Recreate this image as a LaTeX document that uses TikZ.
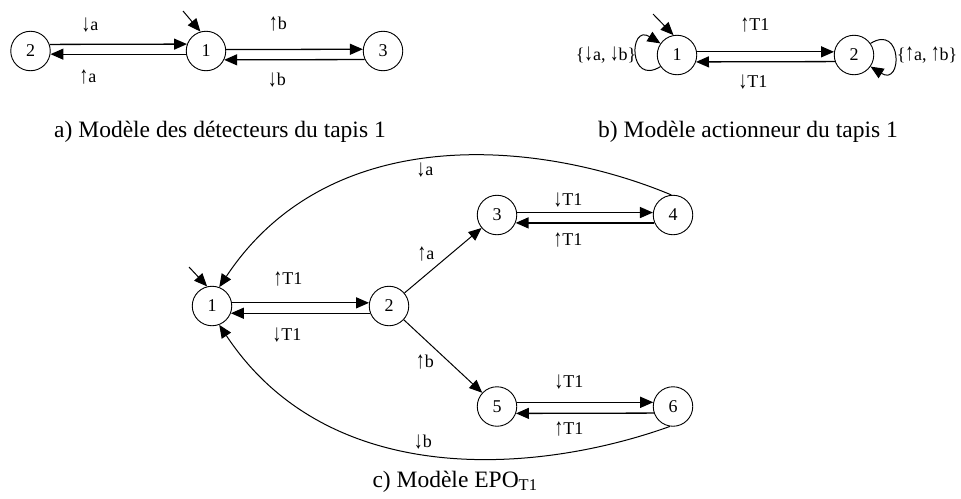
\documentclass[tikz,border=0pt]{standalone}
\usepackage{fontspec}
\usepackage{graphicx}
\setmainfont{Liberation Serif}
\usetikzlibrary{arrows.meta,shapes.geometric}
\newcommand{\dnar}{\raisebox{-0.5pt}{\scalebox{0.95}[1.35]{↓}}}
\newcommand{\upar}{\raisebox{-0.5pt}{\scalebox{0.95}[1.35]{↑}}}
\begin{document}
\begin{tikzpicture}[x=1pt,y=-1pt,
  state/.style={circle,draw,line width=0.9pt,minimum size=39.5pt,inner sep=0pt,font=\fontsize{18}{21}\selectfont},
  lbl/.style={font=\fontsize{18}{21}\selectfont,inner sep=0pt},
  captxt/.style={font=\fontsize{23.5}{28}\selectfont,inner sep=0pt,anchor=base},
  tr/.style={line width=1.3pt,-{Triangle[length=13pt,width=11pt]}},
  cv/.style={line width=1pt,-{Triangle[length=13pt,width=11pt]}}]
\useasboundingbox (0,0) rectangle (961,498);

% ---- panel a
\node[state] (a2) at (30.5,51) {2};
\node[state] (a1) at (206,51) {1};
\node[state] (a3) at (383,51) {3};
\coordinate (ai) at (183,11);
\draw[cv] (ai) -- (a1.106);
\draw[tr] (a2.19.5) -- (a1.160.5);
\draw[tr] (a1.189) -- (a2.351);
\draw[tr] (a1.4.4) -- (a3.175.6);
\draw[tr] (a3.205.8) -- (a1.334.2);
\node[lbl] (la1) at (90,25) {\dnar a};
\node[lbl] (la2) at (88,77) {\upar a};
\node[lbl] (la3) at (278,24) {\upar b};
\node[lbl] (la4) at (277,80) {\dnar b};
\node[captxt] (capa) at (220,137) {a) Modèle des détecteurs du tapis 1};

% ---- panel b
\node[state] (b1) at (677,55) {1};
\node[state] (b2) at (854,55) {2};
\coordinate (bi) at (653,14);
\draw[cv] (bi) -- (b1.100);
\draw[tr] (b1.9) -- (b2.171);
\draw[tr] (b2.199.5) -- (b1.340.5);
\draw[cv] (b1.215) .. controls +(-32,20) and +(-32,-20) .. (b1.145);
\draw[cv] (b2.35) .. controls +(32,-20) and +(32,20) .. (b2.325);
\node[lbl] (lb1) at (755,25) {\upar T1};
\node[lbl] (lb2) at (753,82) {\dnar T1};
\node[lbl] (lb3) at (606,55) {\{\dnar a, \dnar b\}};
\node[lbl] (lb4) at (927,55) {\{\upar a, \upar b\}};
\node[captxt] (capb) at (748,137) {b) Modèle actionneur du tapis 1};

% ---- panel c
\node[state] (c1) at (212,306) {1};
\node[state] (c2) at (389,306) {2};
\node[state] (c3) at (497,215) {3};
\node[state] (c4) at (673,215) {4};
\node[state] (c5) at (497,406.5) {5};
\node[state] (c6) at (673,406.5) {6};
\coordinate (ci) at (189,267);
\draw[cv] (ci) -- (c1.104);
\draw[tr] (c1.9) -- (c2.171);
\draw[tr] (c2.201) -- (c1.339);
\draw[cv] (c2) -- (c3);
\draw[cv] (c2) -- (c5);
\draw[tr] (c3.7) -- (c4.173);
\draw[tr] (c4.203) -- (c3.337);
\draw[tr] (c5.12) -- (c6.168);
\draw[tr] (c6.199.5) -- (c5.340.5);
\draw[cv] (c4.95) .. controls (540,140) and (330,120) .. (c1.69);
\draw[cv] (c6.261) .. controls (540,473) and (330,492) .. (c1.291);
\node[lbl] (lc1) at (288,279) {\upar T1};
\node[lbl] (lc2) at (287,335) {\dnar T1};
\node[lbl] (lc3) at (426,254) {\upar a};
\node[lbl] (lc4) at (425,362) {\upar b};
\node[lbl] (lc5) at (568,200) {\dnar T1};
\node[lbl] (lc6) at (568,240) {\upar T1};
\node[lbl] (lc7) at (569,382) {\dnar T1};
\node[lbl] (lc8) at (569,429) {\upar T1};
\node[lbl] (lc9) at (425,170) {\dnar a};
\node[lbl] (lc10) at (423,442) {\dnar b};
\node[captxt] (capc) at (455,487) {c) Modèle EPO\textsubscript{T1}};
\end{tikzpicture}
\end{document}
